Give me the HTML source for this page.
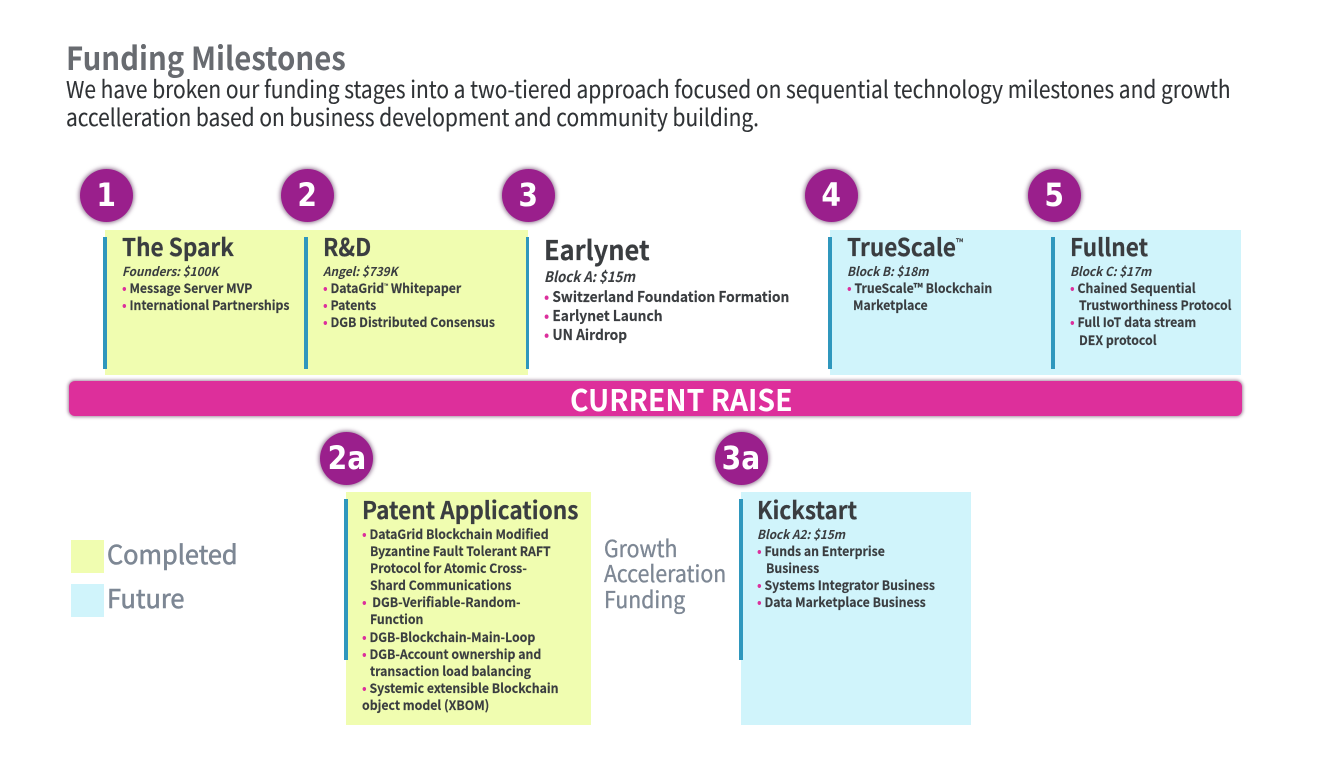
<!DOCTYPE html>
<html><head><meta charset="utf-8"><style>
html,body{margin:0;padding:0;background:#fff}
#p{position:relative;width:1331px;height:767px;overflow:hidden;background:#fff;font-family:"Noto Sans CJK JP","Liberation Sans",sans-serif;color:#3a3d40}
.r,.t,.c{position:absolute}
.y{background:#f0fdb0}.b{background:#d0f4fb}
.v{background:#2f97bd;width:4px}
.t{white-space:nowrap;line-height:20px;height:20px;transform-origin:0 50%}
.h{font-weight:700;font-size:24px;line-height:30px;height:30px;transform:scaleX(.94);-webkit-text-stroke:.2px #3a3d40}
.s{font-weight:700;font-style:italic;font-size:12.5px;transform:scaleX(.94)}
.l{font-weight:700;font-size:13px;transform:scaleX(.945);-webkit-text-stroke:.15px #3a3d40}
.e{font-size:14.5px}
.s.e{transform:scaleX(.91)}
.l.e{transform:scaleX(.95)}
.d{color:#dc2f9c;-webkit-text-stroke:0}
.c{width:53px;height:53px;border-radius:50%;background:#9a1f8c;box-shadow:0 0 4px 1px rgba(70,20,70,.6);color:#fff;font:700 32px/53px "DejaVu Sans",sans-serif;text-align:center}
.c span{display:inline-block;transform:scaleX(.88)}
.g{color:#7d8794;font-size:23px;line-height:26px;height:26px;transform:scaleX(.924);-webkit-text-stroke:.35px #7d8794}
.g.k{font-size:26px;transform:scaleX(.975);-webkit-text-stroke:.6px #7d8794}
.b1{font-size:23.5px;height:30px;line-height:30px;color:#2f3235;transform:scaleX(.89);-webkit-text-stroke:.12px #2f3235}
sup{font-size:.45em;line-height:0;vertical-align:.9em;font-weight:400}
</style></head><body><div id="p">
<div class="t" style="left:66px;top:37px;height:40px;line-height:40px;font-size:32px;font-weight:700;color:#686b70;transform:scaleX(.918)">Funding Milestones</div>
<div class="t b1" style="left:66px;top:73px">We have broken our funding stages into a two-tiered approach focused on sequential technology milestones and growth</div>
<div class="t b1" style="left:66px;top:101px">accelleration based on business development and community building.</div>

<div class="r y" style="left:105px;top:230px;width:423px;height:145px"></div>
<div class="r b" style="left:830px;top:230px;width:411px;height:145px"></div>
<div class="r y" style="left:346px;top:492px;width:245px;height:233px"></div>
<div class="r b" style="left:741px;top:492px;width:230px;height:233px"></div>
<div class="r y" style="left:71px;top:540px;width:33px;height:33px"></div>
<div class="r b" style="left:71px;top:584px;width:33px;height:33px"></div>

<div class="r v" style="left:103px;top:237px;height:132px"></div>
<div class="r v" style="left:304px;top:237px;height:132px"></div>
<div class="r v" style="left:526px;top:237px;height:132px;width:3px"></div>
<div class="r v" style="left:828px;top:237px;height:132px"></div>
<div class="r v" style="left:1051px;top:237px;height:132px"></div>
<div class="r v" style="left:344px;top:499px;height:161px"></div>
<div class="r v" style="left:739px;top:499px;height:161px"></div>

<div class="r" style="left:69px;top:381px;width:1173px;height:35px;border-radius:6px;background:#dd2f9b;box-shadow:0 0 3px 1px rgba(90,40,80,.55)"></div>
<div class="t" style="left:570px;top:381px;height:35px;line-height:34px;color:#fff;font-weight:700;font-size:30px;transform:scaleX(.945)">CURRENT RAISE</div>

<div class="c" style="left:79.5px;top:168.5px"><span>1</span></div>
<div class="c" style="left:280.5px;top:168.5px"><span>2</span></div>
<div class="c" style="left:502px;top:168.5px"><span>3</span></div>
<div class="c" style="left:804.5px;top:168.5px"><span>4</span></div>
<div class="c" style="left:1027.5px;top:168.5px"><span>5</span></div>
<div class="c" style="left:320px;top:431.5px"><span>2a</span></div>
<div class="c" style="left:714.5px;top:431.5px"><span>3a</span></div>

<div class="t h" style="left:122px;top:231px">The Spark</div>
<div class="t s" style="left:122px;top:261px">Founders: $100K</div>
<div class="t l" style="left:122px;top:278px"><span class="d">•</span> Message Server MVP</div>
<div class="t l" style="left:122px;top:295px"><span class="d">•</span> International Partnerships</div>

<div class="t h" style="left:323px;top:231px">R&amp;D</div>
<div class="t s" style="left:323px;top:261px">Angel: $739K</div>
<div class="t l" style="left:323px;top:278px"><span class="d">•</span> DataGrid<sup>™</sup> Whitepaper</div>
<div class="t l" style="left:323px;top:295px"><span class="d">•</span> Patents</div>
<div class="t l" style="left:323px;top:312px"><span class="d">•</span> DGB Distributed Consensus</div>

<div class="t h" style="left:544px;top:234px;font-size:27px">Earlynet</div>
<div class="t s e" style="left:544px;top:267px">Block A: $15m</div>
<div class="t l e" style="left:544px;top:286.5px"><span class="d">•</span> Switzerland Foundation Formation</div>
<div class="t l e" style="left:544px;top:305.5px"><span class="d">•</span> Earlynet Launch</div>
<div class="t l e" style="left:544px;top:324.5px"><span class="d">•</span> UN Airdrop</div>

<div class="t h" style="left:847px;top:231px">TrueScale<sup>™</sup></div>
<div class="t s" style="left:847px;top:261px">Block B: $18m</div>
<div class="t l" style="left:847px;top:278px"><span class="d">•</span> TrueScale™ Blockchain</div>
<div class="t l" style="left:853px;top:295px">Marketplace</div>

<div class="t h" style="left:1070px;top:231px">Fullnet</div>
<div class="t s" style="left:1070px;top:261px">Block C: $17m</div>
<div class="t l" style="left:1070px;top:278px"><span class="d">•</span> Chained Sequential</div>
<div class="t l" style="left:1079px;top:295px">Trustworthiness Protocol</div>
<div class="t l" style="left:1070px;top:312px"><span class="d">•</span> Full IoT data stream</div>
<div class="t l" style="left:1079px;top:329.5px">DEX protocol</div>

<div class="t h" style="left:362px;top:494px">Patent Applications</div>
<div class="t l" style="left:362px;top:524px"><span class="d">•</span> DataGrid Blockchain Modified</div>
<div class="t l" style="left:370px;top:541px">Byzantine Fault Tolerant RAFT</div>
<div class="t l" style="left:370px;top:558px">Protocol for Atomic Cross-</div>
<div class="t l" style="left:370px;top:575px">Shard Communications</div>
<div class="t l" style="left:362px;top:592px"><span class="d">•</span>&nbsp; DGB-Verifiable-Random-</div>
<div class="t l" style="left:370px;top:609px">Function</div>
<div class="t l" style="left:362px;top:627px"><span class="d">•</span> DGB-Blockchain-Main-Loop</div>
<div class="t l" style="left:362px;top:644px"><span class="d">•</span> DGB-Account ownership and</div>
<div class="t l" style="left:370px;top:661px">transaction load balancing</div>
<div class="t l" style="left:362px;top:678px"><span class="d">•</span> Systemic extensible Blockchain</div>
<div class="t l" style="left:362px;top:695px">object model (XBOM)</div>

<div class="t h" style="left:757px;top:494px">Kickstart</div>
<div class="t s" style="left:757px;top:524px">Block A2: $15m</div>
<div class="t l" style="left:757px;top:541px"><span class="d">•</span> Funds an Enterprise</div>
<div class="t l" style="left:766px;top:558px">Business</div>
<div class="t l" style="left:757px;top:575px"><span class="d">•</span> Systems Integrator Business</div>
<div class="t l" style="left:757px;top:592px"><span class="d">•</span> Data Marketplace Business</div>

<div class="t g" style="left:604px;top:534px">Growth</div>
<div class="t g" style="left:604px;top:559px">Acceleration</div>
<div class="t g" style="left:604px;top:585px">Funding</div>
<div class="t g k" style="left:107px;top:541px">Completed</div>
<div class="t g k" style="left:107px;top:585px">Future</div>
</div></body></html>
